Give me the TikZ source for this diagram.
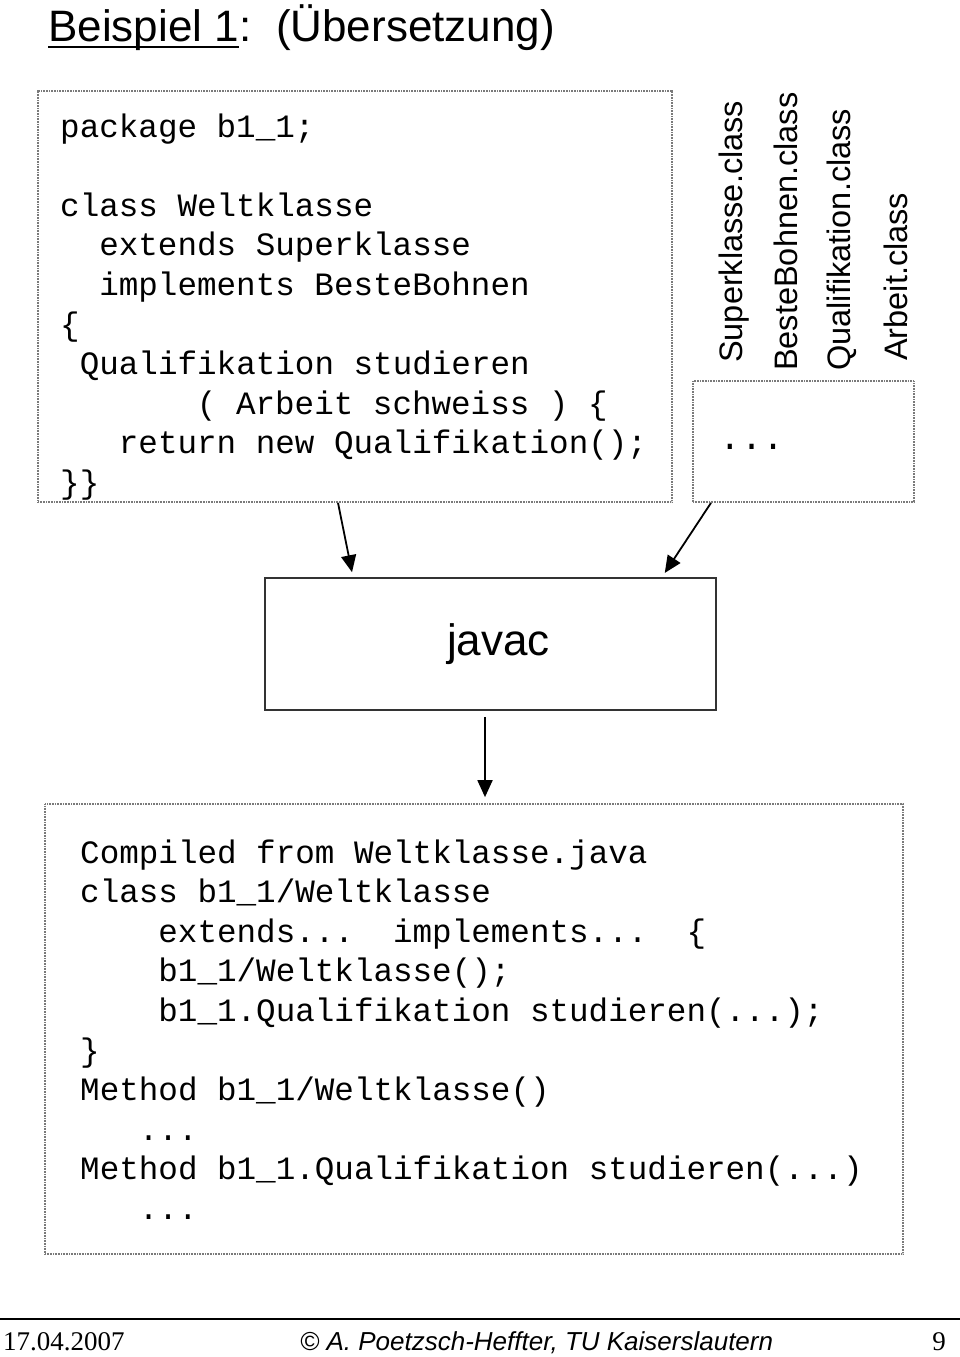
\documentclass[tikz,border=0pt]{standalone}
\usepackage{fontspec}
\setsansfont{Liberation Sans}
\setmonofont{Liberation Mono}
\newfontfamily\serifdat{Liberation Serif}
\usetikzlibrary{arrows.meta,calc}
\definecolor{rahmen}{HTML}{7A7A7A}
\definecolor{dunkel}{HTML}{333333}
\tikzset{
  quelle/.style={draw=rahmen,line width=1.7pt,dash pattern=on 0.9pt off 0.7pt,
    rectangle,inner sep=0pt},
  werkzeug/.style={draw=dunkel,line width=1.8pt,rectangle,inner sep=0pt},
  pfeil/.style={-{Triangle[length=17pt,width=15pt]},black,line width=1.8pt},
  code/.style={font=\ttfamily\fontsize{32.6}{32.6}\selectfont,anchor=base west,inner sep=0pt},
  klasse/.style={font=\sffamily\fontsize{32.5}{32.5}\selectfont,rotate=90,anchor=base west,inner sep=0pt},
  fuss/.style={font=\fontsize{26}{26}\selectfont,inner sep=0pt},
}

\begin{document}
\begin{tikzpicture}[x=1pt,y=-1pt]
  \useasboundingbox (0,0) rectangle (960,1357);
  % Titel
  \node[font=\sffamily\fontsize{44}{44}\selectfont,anchor=base west,inner sep=0pt]
    (ttl) at (48,41) {Beispiel 1};
  \node[font=\sffamily\fontsize{44}{44}\selectfont,anchor=base west,inner sep=0pt]
    (ttlb) at (ttl.base east) {:~~(Übersetzung)};
  \draw[line width=2.4pt] ([yshift=-6pt]ttl.base west) -- ([yshift=-6pt]ttl.base east);
  % Quelltext
  \node[quelle,minimum width=634pt,minimum height=411pt] (src) at (355,296.5) {};
  \node[code] (s1) at (60,137) {package b1\_1;};
  \node[code] (s2) at (60,216.2) {class Weltklasse};
  \node[code] (s3) at (99.1,255.8) {extends Superklasse};
  \node[code] (s4) at (99.1,295.4) {implements BesteBohnen};
  \node[code] (s5) at (60,335) {\{};
  \node[code] (s6) at (79.6,374.6) {Qualifikation studieren};
  \node[code] (s7) at (196.7,414.2) {( Arbeit schweiss ) \{};
  \node[code] (s8) at (118.7,453.8) {return new Qualifikation();};
  \node[code] (s9) at (60,493.4) {\}\}};
  % vorhandene Klassen
  \node[quelle,minimum width=221pt,minimum height=121pt] (libs) at (803.5,441.5) {};
  \node[code,font=\ttfamily\fontsize{36}{36}\selectfont] (dots) at (719,449) {...};
  \node[klasse] (k1) at (742,363) {Superklasse.class};
  \node[klasse] (k2) at (797,371) {BesteBohnen.class};
  \node[klasse] (k3) at (850,371) {Qualifikation.class};
  \node[klasse] (k4) at (907,361) {Arbeit.class};
  % Uebersetzer
  \node[werkzeug,minimum width=451pt,minimum height=132pt] (javac) at (490.5,644) {};
  \node[font=\sffamily\fontsize{44}{44}\selectfont,inner sep=0pt]
    (jtxt) at ([xshift=8pt]javac.center) {javac};
  \draw[pfeil,shorten >=5pt] ([xshift=-17pt]src.south) -- ([xshift=-137.5pt]javac.north);
  \draw[pfeil,shorten >=5pt] ([xshift=-92.5pt]libs.south) -- ([xshift=171.5pt]javac.north);
  % Ergebnis
  \node[quelle,minimum width=858pt,minimum height=450pt] (out) at (474,1029) {};
  \draw[pfeil,shorten <=6pt,shorten >=6pt] ([xshift=-5.5pt]javac.south) -- ([xshift=11pt]out.north);
  \node[code] (o1) at (80,863) {Compiled from Weltklasse.java};
  \node[code] (o2) at (80,902.6) {class b1\_1/Weltklasse};
  \node[code] (o3) at (158.2,942.2) {extends...~~implements...~~\{};
  \node[code] (o4) at (158.2,981.8) {b1\_1/Weltklasse();};
  \node[code] (o5) at (158.2,1021.4) {b1\_1.Qualifikation studieren(...);};
  \node[code] (o6) at (80,1061) {\}};
  \node[code] (o7) at (80,1100.6) {Method b1\_1/Weltklasse()};
  \node[code] (o8) at (138.7,1140.2) {...};
  \node[code] (o9) at (80,1179.8) {Method b1\_1.Qualifikation studieren(...)};
  \node[code] (o10) at (138.7,1219.4) {...};
  % Fusszeile
  \draw[line width=2pt] (0,1319) -- (960,1319);
  \node[fuss,font=\serifdat\fontsize{27}{27}\selectfont,anchor=base west] (datum) at (3,1350) {17.04.2007};
  \node[fuss,font=\sffamily\itshape\fontsize{26}{26}\selectfont,anchor=base west] (autor) at (300,1350)
    {© A.~Poetzsch-Heffter, TU Kaiserslautern};
  \node[fuss,font=\serifdat\fontsize{27}{27}\selectfont,anchor=base east] (seite) at (946,1350) {9};
\end{tikzpicture}
\end{document}
